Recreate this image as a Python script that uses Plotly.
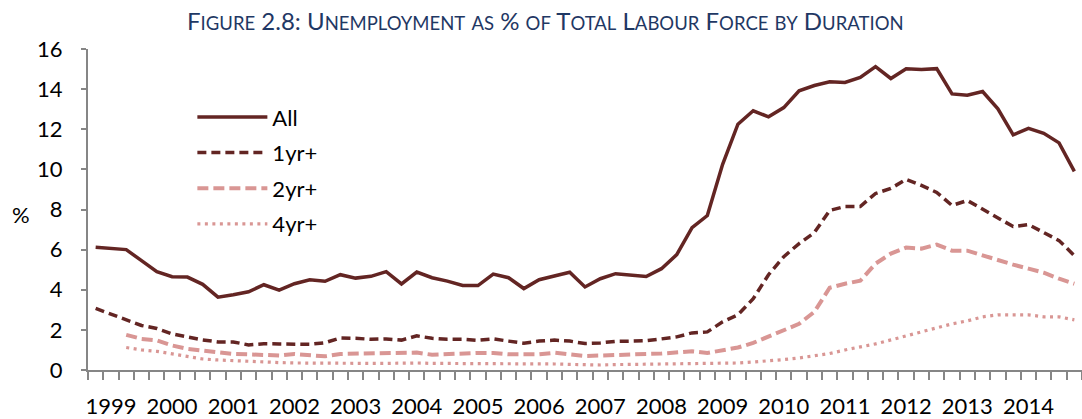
import pandas as pd
import plotly.graph_objects as go

# Quarterly periods, 1998 Q4 to 2014 Q4
quarters = pd.period_range("1998Q4", "2014Q4", freq="Q")

# Unemployment as % of total labour force, by duration
all_dur = [6.12, 6.05, 6.00, 5.45, 4.90, 4.65, 4.63, 4.27, 3.63, 3.75,
           3.90, 4.25, 3.98, 4.30, 4.50, 4.42, 4.75, 4.58, 4.67, 4.90,
           4.29, 4.88, 4.60, 4.43, 4.21, 4.21, 4.78, 4.60, 4.06, 4.50,
           4.70, 4.87, 4.14, 4.55, 4.80, 4.72, 4.66, 5.05, 5.75, 7.10,
           7.70, 10.25, 12.25, 12.92, 12.62, 13.08, 13.92, 14.18, 14.37, 14.33,
           14.58, 15.12, 14.53, 15.02, 14.98, 15.02, 13.76, 13.70, 13.88, 13.02,
           11.72, 12.04, 11.80, 11.32, 9.90]

yr1_plus = [3.07, 2.80, 2.50, 2.22, 2.07, 1.80, 1.65, 1.50, 1.40, 1.40,
            1.25, 1.31, 1.30, 1.30, 1.28, 1.36, 1.60, 1.58, 1.53, 1.55,
            1.49, 1.70, 1.58, 1.53, 1.53, 1.48, 1.55, 1.44, 1.34, 1.44,
            1.49, 1.44, 1.32, 1.35, 1.43, 1.44, 1.46, 1.55, 1.65, 1.85,
            1.90, 2.40, 2.75, 3.55, 4.75, 5.65, 6.30, 6.85, 7.95, 8.15,
            8.15, 8.80, 9.05, 9.50, 9.20, 8.85, 8.20, 8.45, 8.00, 7.60,
            7.15, 7.25, 6.85, 6.45, 5.70]

yr2_plus = [None, None, 1.75, 1.55, 1.48, 1.22, 1.05, 0.97, 0.90, 0.80,
            0.78, 0.76, 0.72, 0.80, 0.72, 0.68, 0.80, 0.82, 0.82, 0.83,
            0.86, 0.87, 0.76, 0.80, 0.82, 0.85, 0.85, 0.78, 0.78, 0.78,
            0.86, 0.76, 0.70, 0.72, 0.76, 0.76, 0.80, 0.82, 0.88, 0.93,
            0.85, 1.00, 1.12, 1.35, 1.65, 1.95, 2.30, 2.90, 4.10, 4.30,
            4.45, 5.30, 5.80, 6.10, 6.05, 6.25, 5.95, 5.95, 5.70, 5.45,
            5.25, 5.05, 4.85, 4.55, 4.30]

yr4_plus = [None, None, 1.12, 1.00, 0.93, 0.80, 0.65, 0.55, 0.50, 0.46,
            0.42, 0.40, 0.37, 0.35, 0.34, 0.34, 0.33, 0.32, 0.33, 0.33,
            0.35, 0.35, 0.33, 0.33, 0.32, 0.33, 0.33, 0.30, 0.30, 0.30,
            0.30, 0.28, 0.25, 0.25, 0.27, 0.28, 0.28, 0.30, 0.32, 0.30,
            0.30, 0.33, 0.35, 0.40, 0.45, 0.52, 0.60, 0.70, 0.82, 1.00,
            1.15, 1.30, 1.50, 1.70, 1.90, 2.10, 2.30, 2.45, 2.65, 2.75,
            2.75, 2.75, 2.65, 2.65, 2.50]

series_names = ["All", "1yr+", "2yr+", "4yr+"]

DARK = "#632523"
PINK = "#D99694"
AXIS = "#868686"
FONT = "Lato"

x = list(range(len(quarters)))
year_pos = [i for i, q in enumerate(quarters) if q.quarter == 1]
year_txt = [str(quarters[i].year) for i in year_pos]

styles = [
    dict(color=DARK, width=3.5, dash="solid"),
    dict(color=DARK, width=3.5, dash="9px,5px"),
    dict(color=PINK, width=4, dash="11px,5px"),
    dict(color=PINK, width=3.2, dash="3px,4.5px"),
]

fig = go.Figure()
for k, (name, ys) in enumerate(zip(series_names, [all_dur, yr1_plus, yr2_plus, yr4_plus])):
    fig.add_trace(go.Scatter(
        x=x, y=ys, mode="lines", name=name,
        line=styles[k], legendgroup=name,
    ))


def small_caps(text, big=24, small=18.5):
    """Render text in small caps using sized spans."""
    out = []
    for word in text.split(" "):
        parts = []
        for ch in word:
            if ch.isalpha() and ch.islower():
                parts.append(f"<span style='font-size:{small}px'>{ch.upper()}</span>")
            else:
                parts.append(f"<span style='font-size:{big}px'>{ch}</span>")
        out.append("".join(parts))
    return " ".join(out)


title_txt = small_caps("Figure 2.8: Unemployment as % of Total Labour Force by Duration")

fig.update_layout(
    width=1082, height=419,
    margin=dict(l=88, r=0, t=49, b=47),
    paper_bgcolor="white", plot_bgcolor="white",
    font=dict(family=FONT, size=22, color="black"),
    showlegend=True,
    legend=dict(
        x=0.105, y=0.853, xanchor="left", yanchor="top",
        bgcolor="rgba(0,0,0,0)", font=dict(size=22, family=FONT),
        itemwidth=70, tracegroupgap=4,
    ),
    annotations=[
        dict(text=title_txt, xref="paper", yref="paper",
             x=(545 - 88) / 994, y=1 + (49 - 20) / 323, xanchor="center", yanchor="middle",
             showarrow=False, font=dict(family=FONT, size=24, color="#1F3864")),
        dict(text="%", xref="paper", yref="paper",
             x=(21 - 88) / 994, y=(372.5 - 216) / 323.5, xanchor="center", yanchor="middle",
             showarrow=False, font=dict(family=FONT, size=22, color="black")),
    ],
)

fig.update_xaxes(
    range=[-0.5, len(x) - 0.5],
    tickmode="array", tickvals=year_pos, ticktext=year_txt,
    ticks="", showgrid=False, zeroline=False,
    showline=True, linecolor=AXIS, linewidth=2,
    ticklabelstandoff=16,
    minor=dict(ticks="outside", tick0=-0.5, dtick=1, ticklen=8,
               tickcolor=AXIS, tickwidth=1.5, showgrid=False),
)
fig.update_yaxes(
    range=[0, 16], dtick=2, tick0=0,
    ticks="outside", ticklen=5, tickcolor=AXIS, tickwidth=1.5,
    showgrid=False, zeroline=False,
    showline=True, linecolor=AXIS, linewidth=2,
    ticklabelstandoff=14,
)

fig.write_html("out.html")
